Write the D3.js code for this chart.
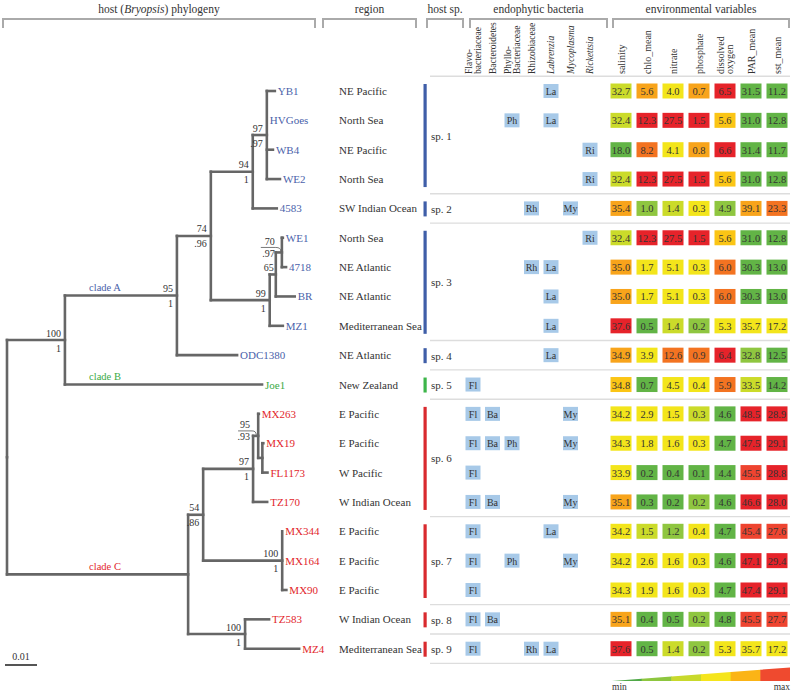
<!DOCTYPE html>
<html><head><meta charset="utf-8">
<script src="https://cdn.jsdelivr.net/npm/d3@7"></script>
<style>body{margin:0;background:#fff}svg{display:block;font-family:"Liberation Serif","Times New Roman",serif}</style>
</head><body><svg id="c" width="792" height="691"></svg>
<script>
// ---------------- DATA ----------------
const newick = "(((((((YB1:0.0025,HVGoes:0,WB4:0.0019,WE2:0.0041)n97:0.0044,4583:0.0075)n94:0.0131,(((WE1:0.0003,4718:0.0013)n70:0.0019,BR:0.0059)n65:0.0019,MZ1:0.0041)n99:0.0184)n74:0.0106,ODC1380:0.0188)nA:0.0350,Joe1:0.0616)nAB:0.0181,((((MX263:0.0002,(MX19:0.0003,FL1173:0.0016)nMF:0.0013)n95:0.0016,TZ170:0.0044)n97c:0.0156,(MX344:0,MX164:0,MX90:0.0013)n100a:0.0247)n54:0.0047,(TZ583:0.0075,MZ4:0.0169)n100b:0.0178)nC:0.0566)root;";
const supportNodes = ["nAB","nA","n74","n94","n97","n70","n65","n99","n54","n97c","n95","n100a","n100b"];
const bootstrap   = ["100","95","74","94","97","70","65","99","54","97","95","100","100"];
const posterior   = ["1","1",".96","1",".97",".97","","1",".86","1",".93","1","1"];
const cladeNames  = ["clade A","clade B","clade C"];
const cladeNodes  = ["nA","Joe1","nC"];

const regions = ["NE Pacific","North Sea","NE Pacific","North Sea","SW Indian Ocean","North Sea","NE Atlantic","NE Atlantic","Mediterranean Sea","NE Atlantic","New Zealand","E Pacific","E Pacific","W Pacific","W Indian Ocean","E Pacific","E Pacific","E Pacific","W Indian Ocean","Mediterranean Sea"];

const speciesLabels = ["sp. 1","sp. 2","sp. 3","sp. 4","sp. 5","sp. 6","sp. 7","sp. 8","sp. 9"];
const speciesFirst  = [0,4,5,9,10,11,15,18,19];
const speciesLast   = [3,4,8,9,10,14,17,18,19];
const speciesClade  = ["A","A","A","A","B","C","C","C","C"];

const bacteriaNames = ["Flavo-\nbacteriaceae","Bacteroidetes","Phyllo-\nBacteriaceae","Rhizobiaceae","Labrenzia","Mycoplasma","Rickettsia"];
const bacteriaAbbr  = ["Fl","Ba","Ph","Rh","La","My","Ri"];
const bacteriaFound = ["La","Ph La","Ri","Ri","Rh My","Ri","Rh La","La","La","La","Fl","Fl Ba My","Fl Ba Ph My","Fl","Fl Ba My","Fl La","Fl Ph My","Fl","Fl Ba","Fl Rh La"];

const envNames = ["salinity","chlo_mean","nitrate","phosphate","dissolved\noxygen","PAR_mean","sst_mean"];
const salinity  = [32.7,32.4,18.0,32.4,35.4,32.4,35.0,35.0,37.6,34.9,34.8,34.2,34.3,33.9,35.1,34.2,34.2,34.3,35.1,37.6];
const chlo_mean = [5.6,12.3,8.2,12.3,1.0,12.3,1.7,1.7,0.5,3.9,0.7,2.9,1.8,0.2,0.3,1.5,2.6,1.9,0.4,0.5];
const nitrate   = [4.0,27.5,4.1,27.5,1.4,27.5,5.1,5.1,1.4,12.6,4.5,1.5,1.6,0.4,0.2,1.2,1.6,1.6,0.5,1.4];
const phosphate = [0.7,1.5,0.8,1.5,0.3,1.5,0.3,0.3,0.2,0.9,0.4,0.27,0.3,0.1,0.2,0.4,0.3,0.3,0.2,0.2];
const dissolved_oxygen = [6.5,5.6,6.6,5.6,4.9,5.6,6.0,6.0,5.3,6.4,5.9,4.6,4.7,4.4,4.6,4.7,4.6,4.7,4.8,5.3];
const PAR_mean  = [31.5,31.0,31.4,31.0,39.1,31.0,30.3,30.3,35.7,32.8,33.5,48.5,47.5,45.5,46.6,45.4,47.1,47.4,45.5,35.7];
const sst_mean  = [11.2,12.8,11.7,12.8,23.3,12.8,13.0,13.0,17.2,12.5,14.2,28.9,29.1,28.8,28.0,27.6,29.4,29.1,27.7,17.2];
// colour-class breaks for each variable (min -> max)
const breaksSalinity  = [25,30,33.5,34.6,34.85,36,37,37.3];
const breaksChlo      = [0.85,1.2,1.6,4.5,5.0,7,10,11];
const breaksNitrate   = [1.0,1.3,1.45,8,9,10,20,25];
const breaksPhosphate = [0.15,0.25,0.28,0.5,0.6,0.85,1.2,1.4];
const breaksOxygen    = [4.85,5.0,5.2,5.5,5.8,5.85,6.2,6.3];
const breaksPAR       = [32,33,35,37,38,42,45,46];
const breaksSST       = [14.5,15.5,16.5,19,21,22,27.5,27.9];
const legendEnds = ["min","max"];
const scaleBarValue = 0.01;

// ---------------- HELPERS ----------------
function parseNewick(str){
  const s = str.replace(/\s+/g,""); let i = 0;
  function node(){
    const n = {};
    if (s[i] === "("){
      n.children = []; i++;
      while (true){ n.children.push(node()); if (s[i] === ","){ i++; continue; } break; }
      i++;
    }
    let name = ""; while (i < s.length && !":,();".includes(s[i])) name += s[i++];
    n.name = name;
    if (s[i] === ":"){ i++; let l = ""; while (i < s.length && !",();".includes(s[i])) l += s[i++]; n.length = +l; }
    else n.length = 0;
    return n;
  }
  return node();
}

const svg = d3.select("#c");
const cladeColor = {A:"#4a62aa", B:"#3aaa45", C:"#e2262b"};
const barColor = {A:"#3f5ea8", B:"#3db54a", C:"#d92a2e"};
const palette = ["#62b446","#8fc640","#cbdb2a","#f3e51b","#fbc515","#f8a41b","#f37321","#ee4430","#e6232a"];
const textCol = "#333";

const yRow = d3.scaleLinear().domain([0,19]).range([91,648.7]);
const xTree = d3.scaleLinear().domain([0,0.01]).range([7,39]);

// ---------------- HEADERS ----------------
const headers = [
  {t:"host (|Bryopsis|) phylogeny", x0:3, x1:315},
  {t:"region", x0:323, x1:416},
  {t:"host sp.", x0:427, x1:463},
  {t:"endophytic bacteria", x0:470, x1:607},
  {t:"environmental variables", x0:613, x1:789}
];
const hg = svg.append("g");
headers.forEach(h=>{
  const t = hg.append("text").attr("x",(h.x0+h.x1)/2).attr("y",13).attr("text-anchor","middle")
    .attr("font-size",11.5).attr("fill",textCol);
  h.t.split("|").forEach((part,k)=>{ t.append("tspan").text(part).attr("font-style", k===1?"italic":null); });
  hg.append("path").attr("d",`M${h.x0},28V19H${h.x1}V28`).attr("fill","none").attr("stroke","#aaa").attr("stroke-width",2);
});

// ---------------- TREE ----------------
const root = d3.hierarchy(parseNewick(newick));
root.each(d=>{ d.dist = d.parent ? d.parent.dist + d.data.length : 0; });
root.leaves().forEach((d,i)=> d.row = i);
root.eachAfter(d=>{
  d.px = xTree(d.dist);
  d.py = d.children ? (d.children[0].py + d.children[d.children.length-1].py)/2 : yRow(d.row);
});
const byName = {}; root.each(d=> byName[d.data.name] = d);
function cladeOf(d){ const a = d.ancestors().map(n=>n.data.name); if (a.includes("nA")) return "A"; if (a.includes("Joe1")) return "B"; return "C"; }

const tg = svg.append("g").attr("fill","none").attr("stroke","#666").attr("stroke-width",2.6).attr("stroke-linecap","square");
root.descendants().forEach(d=>{
  if (d.parent && d.px - d.parent.px > 0.3) tg.append("path").attr("d",`M${d.parent.px},${d.py}H${d.px}`);
  if (d.children) tg.append("path").attr("d",`M${d.px},${d.children[0].py}V${d.children[d.children.length-1].py}`);
});

const lg = svg.append("g").attr("font-size",11);
root.leaves().forEach(d=>{
  lg.append("text").attr("x",d.px+3).attr("y",d.py).attr("dominant-baseline","central")
    .attr("fill",cladeColor[cladeOf(d)]).text(d.data.name);
});

// support values
const sg = svg.append("g").attr("font-size",10).attr("fill",textCol).attr("text-anchor","end");
supportNodes.forEach((name,k)=>{
  const d = byName[name];
  let xr = d.px - 4, yTop = d.py - 7, yBot = d.py + 8;
  if (name === "n70"){ xr = d.parent.px - 1; yTop = d.py - 11; yBot = d.py + 1;
    svg.append("path").attr("d",`M${xr-14},${d.py-5}H${d.parent.px}Q${d.px-1},${d.py-5} ${d.px-1},${d.py-1}`)
      .attr("fill","none").attr("stroke","#555").attr("stroke-width",0.8);
  }
  if (name === "n95"){ xr = d.parent.px - 3; yTop = d.py - 11; yBot = d.py + 1;
    svg.append("path").attr("d",`M${xr-12},${d.py-5}H${d.parent.px-1}Q${d.px-2},${d.py-5} ${d.px-2},${d.py-1}`)
      .attr("fill","none").attr("stroke","#555").attr("stroke-width",0.8);
  }
  if (name === "n65"){ xr = d.px - 2; }
  sg.append("text").attr("x",xr).attr("y",yTop).attr("dominant-baseline","central").text(bootstrap[k]);
  if (posterior[k]) sg.append("text").attr("x",xr).attr("y",yBot).attr("dominant-baseline","central").text(posterior[k]);
});

// clade labels
cladeNames.forEach((c,k)=>{
  const d = byName[cladeNodes[k]];
  svg.append("text").attr("x",105).attr("y",d.py-8).attr("dominant-baseline","central").attr("text-anchor","middle")
    .attr("font-size",10.5).attr("fill",cladeColor[c.slice(-1)]).text(c);
});

// scale bar
svg.append("path").attr("d",`M${xTree(0)-2},665H${xTree(scaleBarValue)-2}`).attr("stroke","#555").attr("stroke-width",2);
svg.append("text").attr("x",(xTree(0)+xTree(scaleBarValue))/2-2).attr("y",656).attr("text-anchor","middle")
  .attr("dominant-baseline","central").attr("font-size",10).attr("fill",textCol).text(String(scaleBarValue));

// ---------------- REGION ----------------
const rg = svg.append("g").attr("font-size",11).attr("fill",textCol);
regions.forEach((r,i)=> rg.append("text").attr("x",339).attr("y",yRow(i)).attr("dominant-baseline","central").text(r));

// ---------------- SEPARATORS & SPECIES ----------------
const sepY = [yRow(0) - (yRow(1)-yRow(0))/2];
speciesLast.forEach(l=> sepY.push(l < 19 ? (yRow(l)+yRow(l+1))/2 : yRow(19) + (yRow(1)-yRow(0))/2));
svg.append("g").selectAll("path").data(sepY).join("path").attr("d",y=>`M430,${y}H790`)
  .attr("stroke","#ddd").attr("stroke-width",1.4);
speciesLabels.forEach((s,k)=>{
  const y0 = yRow(speciesFirst[k]) - 7, y1 = yRow(speciesLast[k]) + 8;
  svg.append("rect").attr("x",423.5).attr("y",y0).attr("width",3.2).attr("height",y1-y0).attr("fill",barColor[speciesClade[k]]);
  svg.append("text").attr("x",431).attr("y",(y0+y1)/2).attr("dominant-baseline","central").attr("font-size",11)
    .attr("fill",textCol).text(s);
});

// ---------------- BACTERIA ----------------
const xBac = d3.scalePoint().domain(bacteriaAbbr).range([473,590]);
const italicNames = new Set(["Labrenzia","Mycoplasma","Rickettsia"]);
function rotLabel(g, x, label, size, italic){
  const lines = label.split("\n"); const off = (lines.length-1)*4.5;
  const t = g.append("text").attr("transform",`translate(${x},74) rotate(-90)`).attr("font-size",size).attr("fill",textCol)
    .attr("font-style", italic?"italic":null);
  lines.forEach((ln,j)=> t.append("tspan").attr("x",0).attr("y",-off + j*9).attr("dominant-baseline","central").text(ln));
}
const bg = svg.append("g");
bacteriaNames.forEach((n,k)=> rotLabel(bg, xBac(bacteriaAbbr[k]), n, 9.5, italicNames.has(n)));
bacteriaFound.forEach((s,i)=>{
  s.split(" ").filter(Boolean).forEach(a=>{
    bg.append("rect").attr("x",xBac(a)-7.5).attr("y",yRow(i)-7).attr("width",15).attr("height",14).attr("fill","#a7c9e8");
    bg.append("text").attr("x",xBac(a)).attr("y",yRow(i)+0.5).attr("text-anchor","middle").attr("dominant-baseline","central")
      .attr("font-size",10).attr("fill",textCol).text(a);
  });
});

// ---------------- ENVIRONMENT ----------------
const envValues = [salinity, chlo_mean, nitrate, phosphate, dissolved_oxygen, PAR_mean, sst_mean];
const envBreaks = [breaksSalinity, breaksChlo, breaksNitrate, breaksPhosphate, breaksOxygen, breaksPAR, breaksSST];
const xEnv = d3.scalePoint().domain(envNames).range([621,777]);
const eg = svg.append("g");
envNames.forEach((n,k)=>{
  rotLabel(eg, xEnv(n), n, 10, false);
  const col = d3.scaleThreshold().domain(envBreaks[k]).range(palette);
  envValues[k].forEach((v,i)=>{
    eg.append("rect").attr("x",xEnv(n)-10.5).attr("y",yRow(i)-7.5).attr("width",21).attr("height",15).attr("fill",col(v));
    eg.append("text").attr("x",xEnv(n)).attr("y",yRow(i)+0.5).attr("text-anchor","middle").attr("dominant-baseline","central")
      .attr("font-size",10.5).attr("fill",textCol).text(v.toFixed(1));
  });
});

// ---------------- LEGEND ----------------
const legendColors = ["#4fa848","#8dc63f","#c8d92c","#f5e51c","#fbb416","#ef4a2f"];
const lx = d3.scaleLinear().domain([0,legendColors.length]).range([612,790]);
const defs = svg.append("defs");
defs.append("clipPath").attr("id","wedge").append("path").attr("d",`M612,681L790,667.5V681Z`);
const leg = svg.append("g").attr("clip-path","url(#wedge)");
legendColors.forEach((c,k)=> leg.append("rect").attr("x",lx(k)).attr("y",660).attr("width",lx(k+1)-lx(k)+0.5).attr("height",25).attr("fill",c));
svg.append("text").attr("x",612).attr("y",687).attr("dominant-baseline","central").attr("font-size",9.5).attr("fill",textCol).text(legendEnds[0]);
svg.append("text").attr("x",790).attr("y",687).attr("text-anchor","end").attr("dominant-baseline","central").attr("font-size",9.5).attr("fill",textCol).text(legendEnds[1]);
</script></body></html>
